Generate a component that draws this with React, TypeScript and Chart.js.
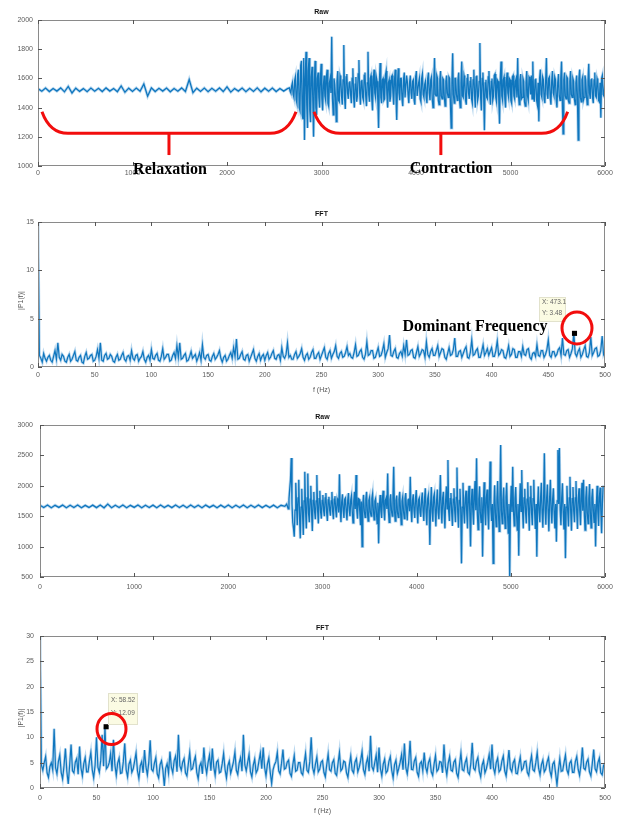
import { useEffect, useRef } from 'react';
import { Chart, registerables } from 'chart.js';

Chart.register(...registerables);

// ---------------- DATA ----------------
// Raw signal 1 (samples)
const raw1QuietStart = 0;
const raw1QuietStep = 40;
const raw1Quiet = [
  1530, 1512, 1534, 1510, 1531, 1513, 1535, 1508, 1545, 1500,
  1533, 1511, 1530, 1509, 1534, 1512, 1532, 1510, 1535, 1513,
  1531, 1509, 1548, 1505, 1533, 1511, 1534, 1512, 1562, 1478,
  1535, 1510, 1532, 1513, 1534, 1508, 1531, 1512, 1535, 1510,
  1592, 1502, 1533, 1511, 1534, 1509, 1532, 1512, 1535, 1510,
  1542, 1506, 1531, 1513, 1534, 1509, 1532, 1511, 1535, 1508,
  1533, 1512, 1534, 1510, 1531, 1513, 1530,
];
const raw1ActiveStart = 2660;
const raw1ActiveStep = 8;
const raw1Active = [
  1535, 1512, 1500, 1548, 1570, 1490, 1470, 1585, 1610, 1455, 1430, 1630, 1660, 1400, 1380, 1690, 1720, 1350, 1320, 1740,
  1178, 1600, 1783, 1420, 1260, 1650, 1740, 1380, 1300, 1610, 1680, 1450, 1200, 1560, 1720, 1400, 1350, 1600, 1640, 1470,
  1400, 1590, 1700, 1460, 1380, 1550, 1620, 1480, 1450, 1610, 1660, 1430, 1410, 1570, 1600, 1500, 1886, 1460, 1350, 1600,
  1560, 1470, 1304, 1580, 1650, 1450, 1440, 1620, 1600, 1480, 1420, 1590, 1829, 1470, 1390, 1610, 1630, 1500, 1460, 1570,
  1580, 1490, 1430, 1600, 1670, 1470, 1400, 1560, 1610, 1440, 1480, 1630, 1726, 1500, 1420, 1580, 1590, 1470, 1450, 1620,
  1640, 1480, 1410, 1570, 1783, 1490, 1440, 1600, 1620, 1460, 1380, 1590, 1660, 1500, 1470, 1610, 1580, 1450, 1260, 1560,
  1705, 1470, 1430, 1590, 1600, 1450, 1460, 1620, 1650, 1490, 1400, 1570, 1590, 1440, 1480, 1610, 1620, 1500, 1420, 1580,
  1660, 1480, 1315, 1560, 1670, 1500, 1450, 1600, 1600, 1460, 1410, 1590, 1640, 1470, 1470, 1620, 1580, 1490, 1430, 1570,
  1620, 1500, 1460, 1580, 1590, 1450, 1420, 1610, 1650, 1480, 1480, 1570, 1600, 1460, 1440, 1600, 1630, 1490, 1470, 1560,
  1580, 1470, 1430, 1600, 1640, 1500, 1450, 1590, 1610, 1460, 1400, 1570, 1740, 1490, 1480, 1620, 1600, 1450, 1420, 1590,
  1650, 1480, 1460, 1600, 1590, 1470, 1410, 1580, 1620, 1500, 1470, 1610, 1600, 1440, 1260, 1570, 1772, 1490, 1430, 1600,
  1600, 1490, 1450, 1590, 1640, 1460, 1400, 1570, 1715, 1480, 1470, 1620, 1590, 1450, 1420, 1600, 1630, 1500, 1460, 1580,
  1610, 1460, 1430, 1590, 1660, 1480, 1400, 1610, 1620, 1450, 1480, 1580, 1842, 1470, 1380, 1600, 1640, 1490, 1245, 1570,
  1590, 1470, 1460, 1610, 1650, 1490, 1420, 1580, 1600, 1450, 1480, 1620, 1630, 1470, 1440, 1590, 1580, 1460, 1290, 1600,
  1715, 1480, 1450, 1590, 1610, 1460, 1400, 1570, 1640, 1500, 1470, 1600, 1590, 1450, 1430, 1610, 1620, 1480, 1460, 1580,
  1600, 1470, 1740, 1490, 1420, 1590, 1630, 1460, 1470, 1600, 1580, 1440, 1410, 1570, 1650, 1480, 1450, 1610, 1600, 1490,
  1620, 1460, 1715, 1480, 1440, 1590, 1600, 1450, 1420, 1570, 1305, 1600, 1660, 1490, 1470, 1610, 1590, 1460, 1430, 1580,
  1740, 1490, 1460, 1600, 1610, 1470, 1420, 1580, 1650, 1500, 1480, 1610, 1590, 1450, 1400, 1570, 1630, 1480, 1450, 1600,
  1715, 1470, 1220, 1590, 1640, 1480, 1460, 1610, 1600, 1450, 1430, 1580, 1650, 1490, 1470, 1600, 1580, 1460, 1420, 1570,
  1620, 1480, 1178, 1600, 1660, 1470, 1440, 1590, 1610, 1450, 1470, 1620, 1590, 1480, 1420, 1580, 1700, 1500, 1460, 1590,
  1600, 1470, 1430, 1590, 1640, 1480, 1470, 1600, 1580, 1450, 1440, 1570, 1330, 1600, 1620, 1490, 1480, 1560,
];

// FFT 1 (|P1(f)|, 1.25 Hz bins)
const fft1Step = 1.25;
const fft1 = [
  15.5, 1.2, 0.9, 0.5, 1.4, 0.9, 0.6, 1.0, 1.2, 0.7, 0.5, 1.1, 1.7, 0.8, 2.5, 1.0, 0.7, 1.3, 1.1, 0.6,
  0.5, 1.0, 1.3, 0.6, 0.8, 1.2, 1.6, 0.7, 0.6, 1.0, 1.2, 0.5, 0.4, 1.1, 1.5, 0.8, 0.9, 1.2, 1.3, 0.6,
  0.7, 1.1, 1.8, 0.9, 2.5, 0.7, 0.6, 1.2, 1.4, 0.8, 0.9, 1.3, 1.1, 0.6, 0.5, 1.0, 1.3, 0.7, 0.8, 1.2,
  1.5, 0.8, 0.6, 1.1, 1.2, 0.7, 1.7, 0.9, 0.7, 1.2, 1.3, 0.6, 0.9, 1.1, 1.6, 0.8, 0.5, 1.0, 1.2, 0.7,
  1.8, 0.9, 0.8, 1.2, 1.4, 0.7, 0.6, 1.1, 1.9, 0.8, 1.0, 1.3, 1.3, 0.6, 0.7, 1.2, 1.5, 0.9, 2.2, 1.0,
  2.5, 0.8, 0.9, 1.2, 1.4, 0.6, 0.7, 1.1, 1.6, 0.9, 1.1, 1.3, 0.6, 1.0, 1.5, 0.7, 2.3, 1.0, 0.8, 1.2,
  1.3, 0.7, 0.6, 1.1, 1.4, 0.8, 1.0, 1.3, 1.7, 0.9, 0.5, 1.0, 1.2, 0.6, 0.8, 1.2, 1.5, 0.9, 2.0, 1.1,
  2.9, 0.8, 0.9, 1.3, 1.6, 0.8, 0.7, 1.2, 1.3, 0.6, 1.0, 1.4, 1.8, 0.9, 0.6, 1.1, 1.4, 0.7, 1.1, 1.3,
  0.7, 1.2, 1.5, 0.8, 1.0, 1.4, 1.7, 0.9, 0.8, 1.2, 1.3, 0.7, 2.0, 1.1, 0.9, 1.3, 2.5, 1.0, 1.2, 0.8,
  0.8, 1.3, 1.6, 0.9, 1.1, 1.4, 1.9, 1.0, 0.7, 1.2, 1.4, 0.8, 1.0, 1.5, 1.8, 0.9, 0.9, 1.3, 1.5, 0.8,
  1.2, 1.6, 2.0, 1.0, 0.8, 1.4, 1.7, 0.9, 1.3, 1.6, 2.2, 1.1, 0.9, 1.4, 1.6, 1.0, 1.1, 1.5, 2.1, 1.2,
  1.4, 1.0, 0.9, 1.5, 2.3, 1.1, 1.2, 1.6, 1.8, 1.0, 0.8, 1.3, 2.6, 1.2, 1.3, 1.7, 1.7, 0.9, 1.0, 1.5,
  2.0, 1.1, 1.2, 1.7, 2.4, 1.0, 1.5, 1.9, 3.3, 1.2, 1.1, 1.6, 1.9, 1.0, 0.9, 1.4, 1.6, 1.1, 2.2, 1.3,
  2.8, 1.2, 1.3, 1.7, 1.8, 1.0, 0.9, 1.5, 2.1, 1.1, 1.4, 1.8, 1.7, 1.0, 2.6, 1.3, 1.0, 1.6, 1.9, 1.2,
  1.2, 1.7, 2.2, 1.1, 1.5, 1.9, 1.8, 1.0, 0.8, 1.4, 2.0, 1.2, 1.3, 1.8, 3.0, 1.1, 1.1, 1.6, 1.7, 1.0,
  1.4, 1.8, 2.1, 1.0, 0.9, 1.5, 2.8, 1.2, 1.3, 1.7, 1.9, 1.0, 1.0, 1.6, 2.3, 1.2, 1.5, 1.9, 1.2, 1.6,
  2.0, 1.1, 1.1, 1.7, 2.7, 1.2, 1.4, 1.8, 1.7, 1.0, 0.9, 1.5, 2.2, 1.1, 1.3, 1.9, 1.8, 1.0, 1.0, 1.6,
  1.6, 1.1, 2.1, 1.3, 1.2, 1.8, 1.9, 1.0, 0.8, 1.4, 1.5, 1.1, 2.3, 1.2, 1.1, 1.7, 1.7, 1.0, 1.3, 1.8,
  2.8, 1.2, 1.0, 1.6, 1.6, 1.1, 1.3, 1.8, 2.0, 1.2, 3.0, 1.3, 1.2, 1.7, 1.8, 1.0, 1.4, 1.9, 3.48, 1.4,
  1.1, 1.6, 1.9, 1.0, 1.3, 1.8, 2.2, 1.1, 1.0, 1.5, 3.1, 1.2, 1.5, 1.9, 2.0, 1.1, 1.2, 1.7, 3.2, 1.3,
  1.6,
];
const fft1Peak = { x: 473.1, y: 3.48 };
const fft1TipLines = ['X: 473.1', 'Y: 3.48'];

// Raw signal 2 (samples)
const raw2QuietStart = 0;
const raw2QuietStep = 40;
const raw2Quiet = [
  1680, 1642, 1684, 1638, 1679, 1645, 1683, 1640, 1681, 1643,
  1685, 1639, 1678, 1644, 1682, 1641, 1684, 1638, 1700, 1640,
  1680, 1643, 1683, 1639, 1679, 1645, 1684, 1640, 1681, 1642,
  1682, 1638, 1685, 1643, 1679, 1641, 1683, 1644, 1680, 1639,
  1684, 1642, 1681, 1640, 1683, 1645, 1679, 1638, 1682, 1643,
  1685, 1640, 1680, 1644, 1683, 1639, 1681, 1642, 1684, 1641,
  1679, 1643, 1682, 1640, 1680, 1662,
];
const raw2ActiveStart = 2620;
const raw2ActiveStep = 8;
const raw2Active = [
  1700, 1660, 1620, 1780, 1950, 2100, 2457, 1700, 1400, 1300, 1163, 1600, 2050, 1700, 1350, 1800, 2100, 1500, 1135, 1650,
  1950, 1550, 1190, 1750, 2232, 1600, 1300, 1800, 2204, 1550, 1400, 1780, 2000, 1560, 1255, 1760, 1900, 1580, 1450, 1750,
  2178, 1600, 1380, 1790, 1920, 1570, 1460, 1760, 1850, 1590, 1500, 1800, 1880, 1560, 1420, 1770, 1820, 1600, 1510, 1750,
  1900, 1580, 1450, 1780, 1830, 1600, 1480, 1790, 1760, 1560, 2190, 1620, 1400, 1740, 1860, 1590, 1470, 1780, 1800, 1570,
  1430, 1760, 1880, 1600, 1500, 1770, 1840, 1580, 1390, 1750, 1900, 1620, 2178, 1600, 1460, 1790, 1780, 1570, 1350, 1740,
  1000, 1700, 1850, 1590, 1480, 1780, 1900, 1600, 1420, 1760, 1810, 1570, 1500, 1790, 1870, 1610, 1440, 1750, 1790, 1580,
  1380, 1720, 1053, 1650, 1850, 1580, 1470, 1780, 1920, 1600, 1430, 1760, 1800, 1620, 2204, 1590, 1400, 1770, 1860, 1600,
  1500, 1790, 2314, 1610, 1420, 1760, 1840, 1570, 1480, 1780, 1900, 1600, 1360, 1750, 1820, 1590, 1460, 1790, 1880, 1610,
  1430, 1770, 1790, 1580, 2150, 1620, 1400, 1760, 1860, 1590, 1470, 1800, 1930, 1600, 1380, 1770, 1800, 1560, 1490, 1780,
  1890, 1590, 1420, 1800, 1960, 1560, 1350, 1780, 1850, 1600, 1025, 1700, 1980, 1570, 1410, 1810, 1870, 1590, 1330, 1760,
  1940, 1560, 1450, 1790, 2178, 1600, 1380, 1800, 1900, 1550, 1300, 1770, 1990, 1620, 2425, 1580, 1420, 1790, 1880, 1560,
  1340, 1780, 1960, 1590, 1400, 1810, 2300, 1570, 1310, 1760, 1950, 1600, 724, 1650, 2050, 1580, 1380, 1800, 1920, 1550,
  1300, 1790, 2000, 1560, 1000, 1700, 1950, 1590, 1360, 1820, 2080, 1600, 2452, 1570, 1280, 1780, 1990, 1560, 1400, 1810,
  835, 1650, 2060, 1580, 1350, 1790, 1940, 1550, 1280, 1800, 2400, 1620, 1420, 1700, 724, 1650, 2010, 1560, 1330, 1780,
  2080, 1590, 1250, 1800, 2671, 1600, 1380, 1770, 1970, 1550, 1300, 1810, 2050, 1580, 1220, 1700, 505, 1650, 2000, 1570,
  2314, 1600, 1340, 1790, 1980, 1560, 1270, 1700, 850, 1650, 2040, 1580, 2260, 1600, 1300, 1800, 1950, 1570, 1380, 1780,
  2060, 1590, 1260, 1810, 2000, 1560, 1350, 1790, 2100, 1600, 1290, 1700, 835, 1660, 1990, 1580, 1400, 1800, 2050, 1560,
  1310, 1780, 2534, 1600, 1360, 1790, 2020, 1570, 1250, 1800, 2100, 1590, 1380, 1780, 1960, 1560, 1300, 1700, 1080, 1750,
  2589, 1700, 2620, 1600, 1350, 1790, 2040, 1560, 1280, 1700, 807, 1650, 2000, 1590, 1330, 1800, 2150, 1570, 1260, 1790,
  1980, 1580, 1400, 1800, 2080, 1560, 1290, 1790, 1960, 1600, 1350, 1780, 2050, 1590, 2100, 1570, 1270, 1800, 1990, 1560,
  1380, 1790, 2030, 1580, 1310, 1800, 1950, 1600, 1400, 1700, 1000, 1650, 2000, 1570, 1340, 1800, 1970, 1580, 1218, 1700,
  2000,
];

// FFT 2 (|P1(f)|, 1.25 Hz bins)
const fft2Step = 1.25;
const fft2 = [
  31, 4.5, 3.5, 5.0, 6.2, 3.0, 2.1, 4.2, 5.0, 3.6, 11.7, 4.0, 2.8, 5.2, 6.5, 3.1, 1.8, 4.4, 7.8, 3.3,
  0.8, 4.6, 8.6, 3.4, 3.0, 5.1, 5.8, 2.7, 8.2, 4.0, 2.4, 4.8, 6.0, 3.2, 3.2, 5.3, 7.0, 3.6, 2.0, 4.5,
  10.0, 4.1, 3.1, 5.5, 10.5, 4.3, 12.09, 3.8, 4.2, 5.0, 6.8, 3.3, 9.5, 4.6, 2.5, 4.9, 5.9, 2.9, 3.0, 5.2,
  8.8, 3.6, 2.2, 4.7, 5.5, 3.1, 3.8, 5.3, 6.9, 3.4, 1.9, 4.4, 5.2, 3.0, 7.5, 4.2, 2.6, 5.0, 9.4, 3.7,
  3.3, 4.9, 6.0, 2.8, 2.0, 4.6, 5.4, 3.5, 0.4, 3.9, 4.8, 2.9, 7.2, 4.1, 3.0, 5.4, 6.3, 3.2, 10.5, 4.4,
  3.5, 5.1, 5.8, 3.0, 2.4, 4.7, 7.0, 3.6, 3.8, 5.2, 6.2, 3.1, 1.8, 4.3, 5.0, 2.8, 8.0, 4.5, 2.9, 5.0,
  6.5, 3.4, 7.8, 4.2, 2.5, 5.1, 5.5, 3.0, 3.2, 4.8, 6.8, 3.7, 2.0, 4.4, 5.3, 2.9, 4.0, 5.2, 7.1, 3.5,
  2.7, 4.9, 6.0, 3.3, 10.5, 4.6, 3.4, 5.0, 6.6, 3.2, 2.2, 4.5, 5.7, 3.0, 3.6, 5.3, 6.9, 3.8, 8.0, 4.1,
  2.4, 4.7, 5.9, 3.1, 0.9, 3.6, 4.6, 5.2, 7.0, 3.4, 2.8, 4.9, 7.6, 3.7, 3.9, 5.1, 5.5, 2.9, 2.3, 4.6,
  6.4, 3.3, 3.5, 5.0, 5.0, 3.0, 2.6, 4.8, 6.8, 3.5, 3.1, 5.2, 10.0, 4.0, 2.9, 4.7, 6.1, 3.2, 3.7, 5.1,
  5.4, 3.1, 2.2, 4.6, 6.7, 3.6, 3.3, 5.0, 5.6, 2.9, 2.5, 4.8, 7.0, 3.4, 3.8, 5.3, 5.1, 3.0, 2.1, 4.5,
  6.3, 3.5, 3.0, 5.1, 5.8, 3.2, 4.1, 5.4, 7.2, 3.6, 2.7, 4.9, 6.0, 3.3, 10.3, 4.2, 3.5, 5.0, 6.5, 3.1,
  8.0, 3.8, 2.4, 4.7, 5.7, 3.0, 3.4, 5.2, 6.2, 3.5, 2.0, 4.6, 5.5, 2.9, 3.9, 5.1, 6.6, 3.6, 8.8, 4.0,
  2.8, 5.0, 9.3, 3.7, 3.6, 5.3, 6.0, 3.1, 2.3, 4.8, 5.2, 3.4, 7.0, 4.1, 3.1, 5.0, 5.8, 3.2, 2.5, 4.7,
  6.4, 3.3, 3.7, 5.2, 5.1, 3.0, 8.6, 4.3, 2.6, 4.9, 6.2, 3.5, 3.3, 5.1, 5.6, 2.9, 2.1, 4.6, 6.9, 3.6,
  3.4, 5.0, 5.8, 3.1, 2.7, 4.8, 8.9, 3.9, 3.5, 5.2, 6.0, 3.3, 2.2, 4.5, 5.4, 3.0, 3.8, 5.1, 6.6, 3.7,
  8.6, 4.0, 2.9, 5.0, 5.9, 3.2, 3.6, 5.3, 6.3, 3.4, 2.4, 4.7, 7.5, 3.8, 3.2, 5.0, 5.6, 2.9, 2.8, 4.6,
  6.1, 3.5, 3.9, 5.2, 5.3, 3.1, 2.5, 4.8, 6.4, 3.6, 3.3, 5.0, 7.0, 3.9, 2.6, 4.6, 5.5, 3.2, 3.7, 5.1,
  6.0, 3.4, 2.3, 4.7, 5.2, 3.0, 0.6, 3.5, 5.8, 3.3, 3.4, 5.0, 6.5, 3.6, 2.8, 4.9, 5.4, 3.1, 3.1, 5.2,
  6.2, 3.7, 2.5, 4.6, 8.0, 3.9, 3.6, 5.1, 5.7, 3.2, 2.4, 4.8, 7.6, 3.8, 3.2, 5.0, 5.9, 3.0, 2.6, 4.5,
  4.8,
];
const fft2Peak = { x: 58.52, y: 12.09 };
const fft2TipLines = ['X: 58.52', 'Y: 12.09'];

// Axis ticks
const rawXAxis = { min: 0, max: 6000, step: 1000 };
const raw1YAxis = { min: 1000, max: 2000, step: 200 };
const fftXAxis = { min: 0, max: 500, step: 50 };
const fft1YAxis = { min: 0, max: 15, step: 5 };
const raw2YAxis = { min: 500, max: 3000, step: 500 };
const fft2YAxis = { min: 0, max: 30, step: 5 };

// ---------------- HELPERS ----------------
const LINE_COLOR = 'rgba(0,110,186,0.92)';
const HALO_COLOR = 'rgba(40,135,205,0.32)';
const SANS = '"Liberation Sans", Arial, sans-serif';
const SERIF = '"Liberation Serif", "Times New Roman", serif';

function segPoints(start: number, step: number, vals: number[]) {
  return vals.map((v, i) => ({ x: start + i * step, y: v }));
}

type Bracket = { x0: number; x1: number; x2: number; x3: number; yTop: number; yBar: number; yStem: number };
type Tip = { peak: { x: number; y: number }; lines: string[]; box: [number, number, number, number]; circle: [number, number, number, number] };
type Label = { text: string; x: number; y: number };

type PanelSpec = {
  height: number;
  area: { left: number; top: number; right: number; bottom: number };
  title: string;
  xTitle?: string;
  yTitle?: string;
  xAxis: { min: number; max: number; step: number };
  yAxis: { min: number; max: number; step: number };
  yPad: number;
  xPad: number;
  lineWidth: number;
  points: { x: number; y: number }[];
  brackets?: Bracket[];
  labels?: Label[];
  tip?: Tip;
};

function makeDecor(spec: PanelSpec) {
  return {
    id: 'decor',
    afterDatasetsDraw(chart: any) {
      const { ctx, chartArea } = chart;
      const { left, right, top, bottom } = chartArea;
      const x = chart.scales.x;
      const y = chart.scales.y;
      ctx.save();
      ctx.strokeStyle = '#8a8a8a';
      ctx.lineWidth = 1;
      ctx.strokeRect(left + 0.5, top + 0.5, right - left - 1, bottom - top - 1);
      ctx.strokeStyle = '#555';
      ctx.beginPath();
      x.ticks.forEach((t: any) => {
        const px = Math.round(x.getPixelForValue(t.value)) + 0.5;
        ctx.moveTo(px, bottom);
        ctx.lineTo(px, bottom - 4);
        ctx.moveTo(px, top);
        ctx.lineTo(px, top + 4);
      });
      y.ticks.forEach((t: any) => {
        const py = Math.round(y.getPixelForValue(t.value)) + 0.5;
        ctx.moveTo(left, py);
        ctx.lineTo(left + 4, py);
        ctx.moveTo(right, py);
        ctx.lineTo(right - 4, py);
      });
      ctx.stroke();
      ctx.fillStyle = '#111';
      ctx.font = 'bold 7px ' + SANS;
      ctx.textAlign = 'center';
      ctx.textBaseline = 'middle';
      ctx.fillText(spec.title, (left + right) / 2, top - 8);
      ctx.fillStyle = '#555';
      ctx.font = '7px ' + SANS;
      if (spec.xTitle) ctx.fillText(spec.xTitle, (left + right) / 2, bottom + 23);
      if (spec.yTitle) {
        ctx.save();
        ctx.translate(21, (top + bottom) / 2 + 6);
        ctx.rotate(-Math.PI / 2);
        ctx.fillText(spec.yTitle, 0, 0);
        ctx.restore();
      }
      ctx.restore();
    },
    afterDraw(chart: any) {
      const { ctx } = chart;
      const x = chart.scales.x;
      const y = chart.scales.y;
      ctx.save();
      (spec.brackets || []).forEach((b) => {
        const X0 = x.getPixelForValue(b.x0);
        const X1 = x.getPixelForValue(b.x1);
        const X2 = x.getPixelForValue(b.x2);
        const X3 = x.getPixelForValue(b.x3);
        const YT = y.getPixelForValue(b.yTop);
        const YB = y.getPixelForValue(b.yBar);
        const YS = y.getPixelForValue(b.yStem);
        ctx.strokeStyle = '#f20d0d';
        ctx.lineWidth = 3;
        ctx.lineCap = 'butt';
        ctx.beginPath();
        ctx.moveTo(X0, YT);
        ctx.quadraticCurveTo(X0 + (X1 - X0) * 0.3, YB, X1, YB);
        ctx.lineTo(X2, YB);
        ctx.quadraticCurveTo(X3 - (X3 - X2) * 0.3, YB, X3, YT);
        ctx.stroke();
        const XM = (X1 + X2) / 2;
        ctx.beginPath();
        ctx.moveTo(XM, YB);
        ctx.lineTo(XM, YS);
        ctx.stroke();
      });
      if (spec.tip) {
        const t = spec.tip;
        const [bx, by, bw, bh] = t.box;
        ctx.fillStyle = '#fbfbe3';
        ctx.fillRect(bx, by, bw, bh);
        ctx.strokeStyle = '#e2e2cc';
        ctx.lineWidth = 1;
        ctx.strokeRect(bx + 0.5, by + 0.5, bw - 1, bh - 1);
        ctx.fillStyle = '#666';
        ctx.font = '6.5px ' + SANS;
        ctx.textAlign = 'left';
        ctx.textBaseline = 'middle';
        t.lines.forEach((l, i) => ctx.fillText(l, bx + 3, by + bh * 0.42 + (i - 0.5) * (bh * 0.42)));
      }
      (spec.labels || []).forEach((l) => {
        ctx.fillStyle = '#000';
        ctx.font = 'bold 16px ' + SERIF;
        ctx.textAlign = 'center';
        ctx.textBaseline = 'alphabetic';
        ctx.fillText(l.text, l.x, l.y);
      });
      if (spec.tip) {
        const [cx, cy, rx, ry] = spec.tip.circle;
        ctx.strokeStyle = '#f20d0d';
        ctx.lineWidth = 3;
        ctx.beginPath();
        ctx.ellipse(cx, cy, rx, ry, 0, 0, Math.PI * 2);
        ctx.stroke();
      }
      ctx.restore();
    },
  };
}

function Panel({ spec }: { spec: PanelSpec }) {
  const ref = useRef<HTMLCanvasElement | null>(null);
  useEffect(() => {
    if (!ref.current) return;
    const a = spec.area;
    const datasets: any[] = [];
    if (spec.tip) {
      datasets.push({
        data: [spec.tip.peak],
        showLine: false,
        pointStyle: 'rect',
        pointRadius: 3.6,
        pointBackgroundColor: '#000',
        pointBorderColor: '#000',
        borderWidth: 0,
      });
    }
    datasets.push({
      data: spec.points,
      borderColor: LINE_COLOR,
      borderWidth: spec.lineWidth,
      pointRadius: 0,
      tension: 0,
      fill: false,
    });
    datasets.push({
      data: spec.points,
      borderColor: HALO_COLOR,
      borderWidth: spec.lineWidth + 1.6,
      pointRadius: 0,
      tension: 0,
      fill: false,
    });
    const tickFont = { family: SANS, size: 7 };
    const chart = new Chart(ref.current, {
      type: 'line',
      data: { datasets },
      options: {
        animation: false,
        responsive: false,
        maintainAspectRatio: false,
        devicePixelRatio: 1,
        layout: { padding: { left: 0, top: a.top, right: 624 - a.right, bottom: 0 } },
        plugins: { legend: { display: false }, tooltip: { enabled: false }, title: { display: false } },
        scales: {
          x: {
            type: 'linear',
            min: spec.xAxis.min,
            max: spec.xAxis.max,
            grid: { display: false, drawTicks: false },
            border: { display: false },
            ticks: {
              stepSize: spec.xAxis.step,
              autoSkip: false,
              maxRotation: 0,
              padding: spec.xPad,
              color: '#5c5c5c',
              font: tickFont,
              callback: (v: any) => String(v),
            },
            afterFit: (s: any) => {
              s.height = spec.height - a.bottom;
            },
          },
          y: {
            type: 'linear',
            min: spec.yAxis.min,
            max: spec.yAxis.max,
            grid: { display: false, drawTicks: false },
            border: { display: false },
            ticks: {
              stepSize: spec.yAxis.step,
              autoSkip: false,
              padding: spec.yPad,
              color: '#5c5c5c',
              font: tickFont,
              callback: (v: any) => String(v),
            },
            afterFit: (s: any) => {
              s.width = a.left;
            },
          },
        },
      } as any,
      plugins: [makeDecor(spec)],
    });
    return () => chart.destroy();
  }, [spec]);
  return <canvas ref={ref} width={624} height={spec.height} style={{ display: 'block', width: 624, height: spec.height }} />;
}

const panels: PanelSpec[] = [
  {
    height: 200,
    area: { left: 38, top: 20, right: 605, bottom: 166 },
    title: 'Raw',
    xAxis: rawXAxis,
    yAxis: raw1YAxis,
    yPad: 5,
    xPad: 3,
    lineWidth: 1.3,
    points: [
      ...segPoints(raw1QuietStart, raw1QuietStep, raw1Quiet),
      ...segPoints(raw1ActiveStart, raw1ActiveStep, raw1Active),
    ],
    brackets: [
      { x0: 42, x1: 317, x2: 2455, x3: 2730, yTop: 1372, yBar: 1224, yStem: 1075 },
      { x0: 2921, x1: 3196, x2: 5330, x3: 5605, yTop: 1372, yBar: 1224, yStem: 1075 },
    ],
    labels: [
      { text: 'Relaxation', x: 170, y: 174 },
      { text: 'Contraction', x: 451, y: 173 },
    ],
  },
  {
    height: 205,
    area: { left: 38, top: 22, right: 605, bottom: 167 },
    title: 'FFT',
    xTitle: 'f (Hz)',
    yTitle: '|P1(f)|',
    xAxis: fftXAxis,
    yAxis: fft1YAxis,
    yPad: 4,
    xPad: 4,
    lineWidth: 1.2,
    points: segPoints(0, fft1Step, fft1),
    tip: { peak: fft1Peak, lines: fft1TipLines, box: [539, 97, 27, 25], circle: [577, 128, 15, 16] },
    labels: [{ text: 'Dominant Frequency', x: 475, y: 131 }],
  },
  {
    height: 205,
    area: { left: 40, top: 20, right: 605, bottom: 172 },
    title: 'Raw',
    xAxis: rawXAxis,
    yAxis: raw2YAxis,
    yPad: 7,
    xPad: 6,
    lineWidth: 1.3,
    points: [
      ...segPoints(raw2QuietStart, raw2QuietStep, raw2Quiet),
      ...segPoints(raw2ActiveStart, raw2ActiveStep, raw2Active),
    ],
  },
  {
    height: 209,
    area: { left: 40, top: 26, right: 605, bottom: 178 },
    title: 'FFT',
    xTitle: 'f (Hz)',
    yTitle: '|P1(f)|',
    xAxis: fftXAxis,
    yAxis: fft2YAxis,
    yPad: 6,
    xPad: 6,
    lineWidth: 1.2,
    points: segPoints(0, fft2Step, fft2),
    tip: { peak: fft2Peak, lines: fft2TipLines, box: [108, 83, 30, 32], circle: [111.5, 119, 14.5, 15.5] },
  },
];

export default function App() {
  return (
    <div style={{ position: 'absolute', left: 0, top: 0, width: 624, height: 819, background: '#fff' }}>
      {panels.map((p, i) => (
        <Panel key={i} spec={p} />
      ))}
    </div>
  );
}
